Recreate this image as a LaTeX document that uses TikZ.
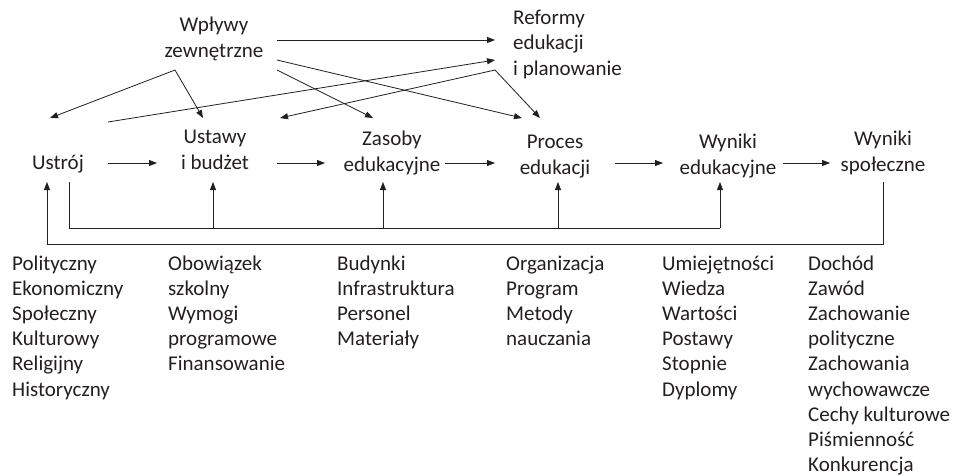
\documentclass[tikz,border=0pt]{standalone}
\usepackage{fontspec}
\setmainfont{Carlito}
\usetikzlibrary{arrows.meta}
\definecolor{ink}{HTML}{231F20}
\begin{document}
\begin{tikzpicture}[x=1pt,y=-1pt,
  font=\fontsize{21}{25.2}\selectfont,
  txt/.style={inner sep=0pt, align=center, anchor=base, text=ink},
  lst/.style={inner sep=0pt, align=left, anchor=base west, text=ink},
  arr/.style={draw=ink, line width=0.8pt, -{Triangle[length=8pt,width=6pt]}},
  ln/.style={draw=ink, line width=0.8pt}]
\useasboundingbox (0,0) rectangle (955,475);

% main nodes (base anchor = baseline of the last line)
\node[txt] (wp) at (214,57) {Wpływy\\zewnętrzne};
\node[lst] (ref) at (513,75) {Reformy\\edukacji\\i planowanie};
\node[txt] (ustroj) at (58,169) {Ustrój};
\node[txt] (ustawy) at (215,169) {Ustawy\\i budżet};
\node[txt] (zasoby) at (392,171) {Zasoby\\edukacyjne};
\node[txt] (proces) at (555,174) {Proces\\edukacji};
\node[txt] (wedu) at (728,174) {Wyniki\\edukacyjne};
\node[txt] (wspol) at (883,171) {Wyniki\\społeczne};

% lists
\node[lst] (l1) at (12,396) {Polityczny\\Ekonomiczny\\Społeczny\\Kulturowy\\Religijny\\Historyczny};
\node[lst] (l2) at (168,370.8) {Obowiązek\\szkolny\\Wymogi\\programowe\\Finansowanie};
\node[lst] (l3) at (337,345.6) {Budynki\\Infrastruktura\\Personel\\Materiały};
\node[lst] (l4) at (506,345.6) {Organizacja\\Program\\Metody\\nauczania};
\node[lst] (l5) at (662,396) {Umiejętności\\Wiedza\\Wartości\\Postawy\\Stopnie\\Dyplomy};
\node[lst] (l6) at (808,471.6) {Dochód\\Zawód\\Zachowanie\\polityczne\\Zachowania\\wychowawcze\\Cechy kulturowe\\Piśmienność\\Konkurencja};

% connector end points
\coordinate (wpA) at (277,40);
\coordinate (wpB) at (277,60);
\coordinate (wpC) at (277,70);
\coordinate (wpS) at (175,70);
\coordinate (refA) at (495,40);
\coordinate (refB) at (495,60);
\coordinate (refS) at (495,70);
\coordinate (ustrojT) at (50,118);
\coordinate (ustrojR) at (108,122);
\coordinate (ustawyT) at (203,118);
\coordinate (ustawyTR) at (280,118);
\coordinate (zasobyT) at (373,118);
\coordinate (procesTL) at (522,118);
\coordinate (procesT) at (540,118);

% top arrows
\draw[arr] (wpA) -- (refA);
\draw[arr] (wpB) -- (procesTL);
\draw[arr] (wpC) -- (zasobyT);
\draw[arr] (wpS) -- (ustrojT);
\draw[arr] (wpS) -- (ustawyT);
\draw[arr] (ustrojR) -- (refB);
\draw[arr] (refS) -- (ustawyTR);
\draw[arr] (refS) -- (procesT);

% main row arrows
\coordinate (m1a) at (108,163); \coordinate (m1b) at (157,163);
\coordinate (m2a) at (277,163); \coordinate (m2b) at (325,163);
\coordinate (m3a) at (445,163); \coordinate (m3b) at (495,163);
\coordinate (m4a) at (615,163); \coordinate (m4b) at (663,163);
\coordinate (m5a) at (783,163); \coordinate (m5b) at (830,163);
\draw[arr] (m1a) -- (m1b);
\draw[arr] (m2a) -- (m2b);
\draw[arr] (m3a) -- (m3b);
\draw[arr] (m4a) -- (m4b);
\draw[arr] (m5a) -- (m5b);

% feedback loops
\coordinate (oR) at (883,182);
\coordinate (oRB) at (883,244);
\coordinate (oLB) at (47,244);
\coordinate (oLT) at (47,182);
\draw[arr] (oR) -- (oRB) -- (oLB) -- (oLT);

\coordinate (iL) at (69,182);
\coordinate (iLB) at (69,228);
\coordinate (iRB) at (720,228);
\coordinate (iRT) at (720,182);
\draw[ln] (iL) -- (iLB) -- (iRB);
\draw[arr] (iRB) -- (iRT);
\foreach \xx/\nm in {213/a,383/b,558/c}{
  \coordinate (ib\nm) at (\xx,228);
  \coordinate (it\nm) at (\xx,182);
  \draw[arr] (ib\nm) -- (it\nm);
}
\end{tikzpicture}
\end{document}
